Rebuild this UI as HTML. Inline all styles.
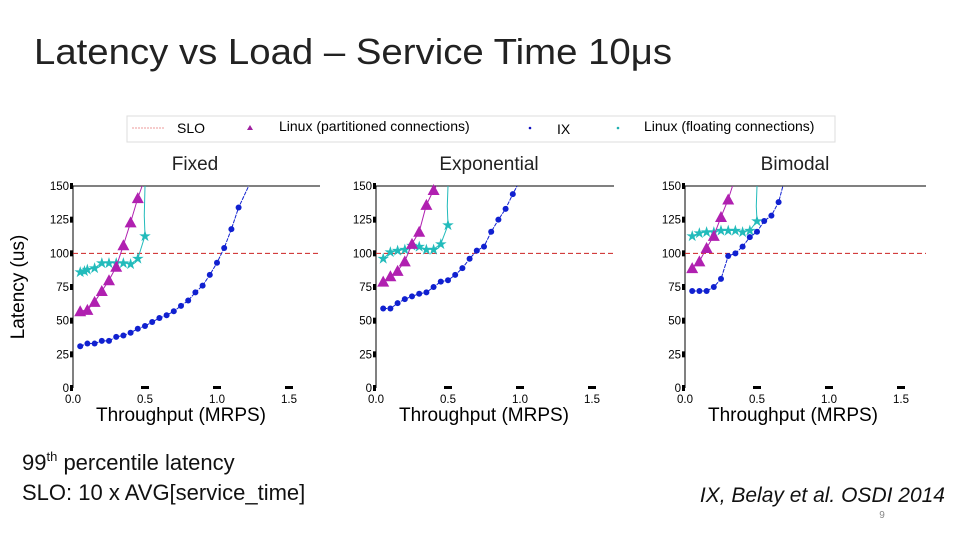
<!DOCTYPE html>
<html><head><meta charset="utf-8"><style>
body{margin:0;background:#fff;width:960px;height:540px;overflow:hidden;font-family:"Liberation Sans",sans-serif}
</style></head><body>
<svg id="s" width="960" height="540" xmlns="http://www.w3.org/2000/svg">
<text x="34" y="64" font-size="36" fill="#222" textLength="638" lengthAdjust="spacingAndGlyphs" font-family="Liberation Sans, sans-serif">Latency vs Load – Service Time 10μs</text>
<g>
<rect x="127" y="116" width="708" height="26" fill="#fff" stroke="#ddd"/>
<line x1="132" y1="128" x2="164" y2="128" stroke="#d33" stroke-dasharray="2,1" stroke-width="0.6"/>
<text x="177" y="133" font-size="14">SLO</text>
<polygon points="250,125 247,130 253,130" fill="#a020a0"/>
<text x="279" y="131" font-size="14">Linux (partitioned connections)</text>
<circle cx="530" cy="128" r="1.3" fill="#1010c0"/>
<text x="557" y="134" font-size="14">IX</text>
<circle cx="618" cy="128" r="1.3" fill="#20b0b0"/>
<text x="644" y="131" font-size="14">Linux (floating connections)</text>
</g>
<text x="24" y="287" font-size="19" transform="rotate(-90 24 287)" text-anchor="middle">Latency (us)</text>
<g id="charts"></g>
<text x="22" y="470" font-size="22" fill="#111">99<tspan font-size="13" dy="-9">th</tspan><tspan dy="9"> percentile latency</tspan></text>
<text x="22" y="500" font-size="22" fill="#111">SLO: 10 x AVG[service_time]</text>
<text x="945" y="502" font-size="21" font-style="italic" text-anchor="end" fill="#111">IX, Belay et al. OSDI 2014</text>
<text x="882" y="518" font-size="10" fill="#888" text-anchor="middle">9</text>
</svg>
<script>
const panelTitles=["Fixed","Exponential","Bimodal"];
const xTicks=[0,0.5,1.0,1.5];
const xTickLabels=["0.0","0.5","1.0","1.5"];
const yTicks=[0,25,50,75,100,125,150];
const slo=100;
const ixX=[[.05,.1,.15,.2,.25,.3,.35,.4,.45,.5,.55,.6,.65,.7,.75,.8,.85,.9,.95,1.0,1.05,1.1,1.15,1.22],
 [.05,.1,.15,.2,.25,.3,.35,.4,.45,.5,.55,.6,.65,.7,.75,.8,.85,.9,.95,.98],
 [.05,.1,.15,.2,.25,.3,.35,.4,.45,.5,.55,.6,.65,.68]];
const ixY=[[31,33,33,35,35,38,39,41,44,46,49,52,54,57,61,65,71,76,84,93,104,118,134,150],
 [59,59,63,66,68,70,71,75,79,80,84,89,96,102,105,116,125,133,144,150],
 [72,72,72,75,81,98,100,105,112,116,124,128,138,150]];
const partX=[[.05,.1,.15,.2,.25,.3,.35,.4,.45,.48],[.05,.1,.15,.2,.25,.3,.35,.4,.42],[.05,.1,.15,.2,.25,.3,.33]];
const partY=[[57,58,64,72,80,90,106,123,141,150],[79,83,87,94,107,116,136,147,150],[89,94,104,113,127,140,150]];
const floatX=[[.05,.08,.1,.15,.2,.25,.3,.35,.4,.45,.5,.495,.5],
 [.05,.1,.15,.2,.25,.3,.35,.4,.45,.5,.495,.5],
 [.05,.1,.15,.2,.25,.3,.35,.4,.45,.5,.495,.5]];
const floatY=[[86,87,88,89,93,93,93,93,92,96,113,128,150],
 [96,101,102,103,106,105,103,103,107,121,135,150],
 [113,115,116,116,117,117,117,116,117,124,135,150]];
const floatMarks=[11,10,10];
const partMarks=[9,8,6];
const ixMarks=[23,19,13];

const NS="http://www.w3.org/2000/svg";
const origins=[73,376,685], rights=[320,614,926], titleX=[195,489,795];
const y0=388, ppy=(388-186)/150, ppx=144;
const g=document.getElementById('charts');
function mk(t,a,p){const e=document.createElementNS(NS,t);for(const k in a)e.setAttribute(k,a[k]);(p||g).appendChild(e);return e;}
for(let p=0;p<3;p++){
 const ox=origins[p];
 const X=v=>ox+v*ppx, Y=v=>y0-v*ppy;
 const pg=mk('g',{});
 
 
 const t=mk('text',{x:titleX[p],y:170,'font-size':19,'text-anchor':'middle',fill:'#222'},pg);t.textContent=panelTitles[p];
 
 
 const ax=mk('line',{x1:ox,y1:Y(0),x2:ox,y2:Y(150),stroke:'#000','stroke-width':1},pg);
 
 
 const top=mk('line',{x1:ox,y1:Y(150),x2:rights[p],y2:Y(150),stroke:'#000','stroke-width':1},pg);
 
 
 yTicks.forEach(v=>{
  const r=mk('rect',{x:ox-3,y:Y(v)-3,width:3,height:6,fill:'#000'},pg);
  
  
  const l=mk('text',{x:ox-4,y:Y(v)+4,'font-size':11.5,'text-anchor':'end'},pg);l.textContent=v;
  
  
 });
 xTicks.forEach((v,i)=>{
  if(v>0){const r=mk('rect',{x:X(v)-4,y:y0-2,width:8,height:3,fill:'#000'},pg);
  
  }
  const l=mk('text',{x:X(v),y:y0+15,'font-size':11.5,'text-anchor':'middle'},pg);l.textContent=xTickLabels[i];
  
  
 });
 const xl=mk('text',{x:X(0.75),y:y0+33,'font-size':19,'text-anchor':'middle'},pg);xl.textContent='Throughput (MRPS)';
 
 
 const s=mk('line',{x1:ox,y1:Y(slo),x2:rights[p],y2:Y(slo),stroke:'#cc2222','stroke-dasharray':'5,3','stroke-width':1},pg);
 
 
 function series(xs,ys,n,col,name,marker){
  const pts=xs.map((x,i)=>X(x)+','+Math.max(Y(150),Y(ys[i]))).join(' ');
  const pl=mk('polyline',{points:pts,fill:'none',stroke:col,'stroke-width':1,'stroke-dasharray':name==='ix'?'4,1':'none'},pg);
  
  
  for(let i=0;i<n;i++){
   const cx=X(xs[i]),cy=Y(ys[i]);let m;
   if(marker==='c')m=mk('circle',{cx:cx,cy:cy,r:3,fill:col},pg);
   else if(marker==='t')m=mk('polygon',{points:`${cx},${cy-6} ${cx-6},${cy+5} ${cx+6},${cy+5}`,fill:col},pg);
   else m=mk('text',{x:cx,y:cy+5,'font-size':15,'text-anchor':'middle',fill:col},pg),m.textContent='★';
   
   
  }
 }
 series(floatX[p],floatY[p],floatMarks[p],'#22bbbb','floating','s');
 series(partX[p],partY[p],partMarks[p],'#b020b0','partitioned','t');
 series(ixX[p],ixY[p],ixMarks[p],'#1020d0','ix','c');
}
</script>
</body></html>
